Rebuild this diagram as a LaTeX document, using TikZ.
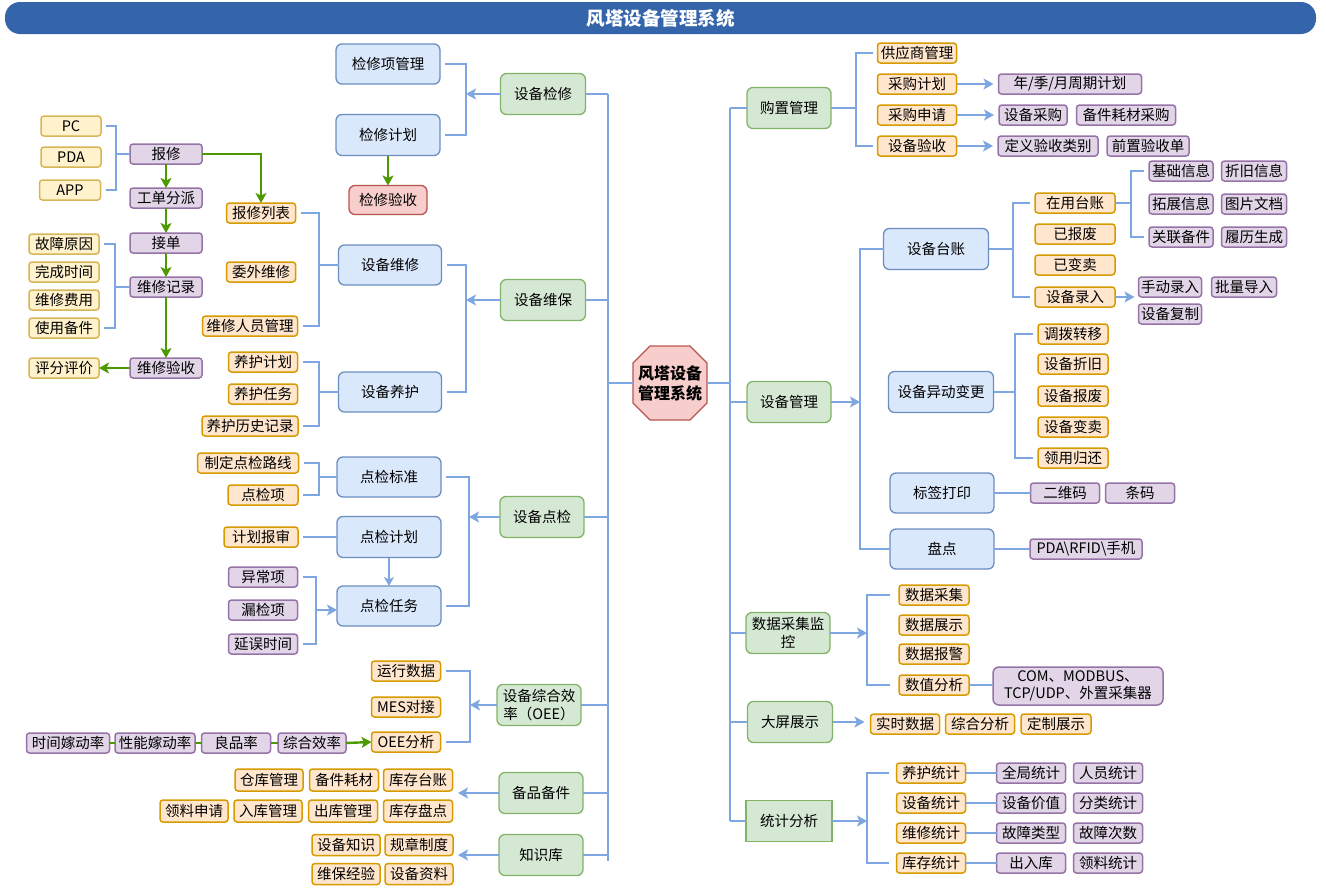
\documentclass[tikz,border=0pt]{standalone}
\usepackage{fontspec}
\setmainfont{Noto Sans CJK SC}
\usetikzlibrary{arrows.meta}
\definecolor{yelF}{HTML}{FFF2CC}\definecolor{yelD}{HTML}{D6B656}
\definecolor{orgF}{HTML}{FFE6CC}\definecolor{orgD}{HTML}{D79B00}
\definecolor{purF}{HTML}{E1D5E7}\definecolor{purD}{HTML}{9673A6}
\definecolor{grnF}{HTML}{D5E8D4}\definecolor{grnD}{HTML}{82B366}
\definecolor{bluF}{HTML}{DAE8FC}\definecolor{bluD}{HTML}{6C8EBF}
\definecolor{redF}{HTML}{F8CECC}\definecolor{redD}{HTML}{B85450}
\definecolor{lineB}{HTML}{7EA6E0}\definecolor{lineG}{HTML}{4D9900}
\definecolor{titleB}{HTML}{3465AA}
\newcommand\fsz{\fontsize{14.5}{17.5}\selectfont}
\begin{document}
\begin{tikzpicture}[x=1pt,y=-1pt,
  sm/.style={draw, rounded corners=3pt, line width=1.5pt, minimum height=20pt, inner sep=0pt, outer sep=0pt, font=\fsz, align=center},
  sy/.style={sm, fill=yelF, draw=yelD},
  so/.style={sm, fill=orgF, draw=orgD},
  sp/.style={sm, fill=purF, draw=purD},
  big/.style={draw, rounded corners=6pt, line width=1.3pt, minimum height=41pt, inner sep=0pt, outer sep=0pt, font=\fsz, align=center},
  bg/.style={big, fill=grnF, draw=grnD},
  bb/.style={big, fill=bluF, draw=bluD},
  w/.style={minimum width=#1pt},
  conn/.style={draw=lineB, line width=2.2pt},
  arr/.style={conn, -{Stealth[length=10pt,width=11pt,inset=2.5pt]}},
  gconn/.style={draw=lineG, line width=2.4pt},
  garr/.style={gconn, -{Stealth[length=10pt,width=11pt,inset=2.5pt]}},
  title/.style={fill=titleB, rounded corners=15pt, minimum width=1311pt, minimum height=32pt, inner sep=0pt, text=white, font=\bfseries\fontsize{18.5}{20}\selectfont}
]
\useasboundingbox (0,0) rectangle (1326,894);
\node[title] (title) at (660.5,18) {风塔设备管理系统};

% centre
\draw[fill=redF, draw=redD, line width=1.3pt] (650,346)--(690,346)--(707,363)--(707,403)--(690,420)--(650,420)--(633,403)--(633,363)--cycle;
\node[minimum width=74pt, minimum height=74pt, inner sep=0pt, outer sep=0pt, align=center, font=\bfseries\fontsize{16}{20}\selectfont] (ctr) at (670,383) {风塔设备\\管理系统};

% ---------------- left side ----------------
\node[bg,w=85] (jx) at (543,94) {设备检修};
\node[bg,w=85] (wb) at (543,300) {设备维保};
\node[bg,w=84] (dj) at (542,517) {设备点检};
\node[bg,w=84] (oee) at (539,705) {设备综合效\\率（OEE）};
\node[bg,w=84] (bp) at (541,793) {备品备件};
\node[bg,w=84] (zs) at (541,855) {知识库};

\node[bb,w=104,minimum height=40pt] (jxx) at (388,64) {检修项管理};
\node[bb,w=104] (jxjh) at (388,135) {检修计划};
\node[big,w=78,minimum height=29pt,fill=redF,draw=redD] (jxys) at (388,200) {检修验收};
\node[bb,w=103,minimum height=40pt] (wx) at (390,265) {设备维修};
\node[bb,w=103,minimum height=40pt] (yh) at (390,392) {设备养护};
\node[bb,w=104,minimum height=40pt] (djbz) at (389,477) {点检标准};
\node[bb,w=104] (djjh) at (389,537) {点检计划};
\node[bb,w=104,minimum height=40pt] (djrw) at (389,606) {点检任务};

\node[sy,w=60] (pc) at (71,126) {PC};
\node[sy,w=60] (pda) at (71,157) {PDA};
\node[sy,w=61] (app) at (70,190) {APP};
\node[sp,w=72] (bx) at (166,154) {报修};
\node[sp,w=72] (gd) at (166,198) {工单分派};
\node[sp,w=72] (jd) at (166,243) {接单};
\node[sp,w=72] (wxjl) at (166,287) {维修记录};
\node[sp,w=72] (wxys) at (166,368) {维修验收};
\node[sy,w=70] (pf) at (64,368) {评分评价};
\node[sy,w=70] (gzyy) at (64,244) {故障原因};
\node[sy,w=70] (wcsj) at (64,272) {完成时间};
\node[sy,w=70] (wxfy) at (64,300) {维修费用};
\node[sy,w=70] (sybj) at (64,328) {使用备件};
\node[so,w=69] (bxlb) at (261,213) {报修列表};
\node[so,w=69] (wwwx) at (261,272) {委外维修};
\node[so,w=95] (wxry) at (250,326) {维修人员管理};
\node[so,w=69] (yhjh) at (263,362) {养护计划};
\node[so,w=69] (yhrw) at (263,394) {养护任务};
\node[so,w=96] (yhls) at (250,426) {养护历史记录};
\node[so,w=101] (zdlx) at (248,463) {制定点检路线};
\node[so,w=70] (djx) at (263,495) {点检项};
\node[so,w=74] (jhbs) at (261,537) {计划报审};
\node[sp,w=69] (ycx) at (263,577) {异常项};
\node[sp,w=69] (ljx) at (263,610) {漏检项};
\node[sp,w=69] (ywsj) at (263,644) {延误时间};
\node[so,w=69] (yxsj) at (406,671) {运行数据};
\node[so,w=69] (mes) at (406,707) {MES对接};
\node[so,w=69] (oeefx) at (406,742) {OEE分析};
\node[sp,w=83] (sjjd) at (68,743) {时间嫁动率};
\node[sp,w=80] (xnjd) at (155,743) {性能嫁动率};
\node[sp,w=69] (lpl) at (236,743) {良品率};
\node[sp,w=68] (zhxl) at (312,743) {综合效率};
\node[so,w=68,minimum height=22pt] (ckgl) at (269,780) {仓库管理};
\node[so,w=69,minimum height=22pt] (bjhc) at (344,780) {备件耗材};
\node[so,w=69,minimum height=22pt] (kctz) at (418,780) {库存台账};
\node[so,w=68,minimum height=22pt] (llsq) at (194,811) {领料申请};
\node[so,w=68,minimum height=22pt] (rkgl) at (268,811) {入库管理};
\node[so,w=69,minimum height=22pt] (chkgl) at (343,811) {出库管理};
\node[so,w=69,minimum height=22pt] (kcpd) at (418,811) {库存盘点};
\node[so,w=68,minimum height=21pt] (sbzs) at (346,845) {设备知识};
\node[so,w=68,minimum height=21pt] (gzzd) at (419,845) {规章制度};
\node[so,w=68,minimum height=21pt] (wbjy) at (346,874) {维保经验};
\node[so,w=68,minimum height=21pt] (sbzl) at (419,874) {设备资料};

% ---------------- right side ----------------
\node[bg,w=84] (gzgl) at (789,108) {购置管理};
\node[bg,w=84] (sbgl) at (789,402) {设备管理};
\node[bg,w=84] (sjcj) at (788,633) {数据采集监\\控};
\node[bg,w=85] (dpzs) at (790,722) {大屏展示};
\node[bg,w=86,rounded corners=0pt] (tjfx) at (789,821) {统计分析};

\node[bb,w=105] (sbtz) at (936,249) {设备台账};
\node[bb,w=105] (ydbg) at (941,392) {设备异动变更};
\node[bb,w=104,minimum height=40pt] (bqdy) at (942,493) {标签打印};
\node[bb,w=104,minimum height=40pt] (pdian) at (942,549) {盘点};

\node[so,w=79] (gys) at (917,53) {供应商管理};
\node[so,w=79] (cgjh) at (917,84) {采购计划};
\node[so,w=79] (cgsq) at (917,115) {采购申请};
\node[so,w=79] (sbys) at (917,146) {设备验收};
\node[sp,w=143] (zqjh) at (1070,84) {年/季/月周期计划};
\node[sp,w=68] (sbcg) at (1033,115) {设备采购};
\node[sp,w=99] (bjcg) at (1126,115) {备件耗材采购};
\node[sp,w=100] (dyys) at (1048,146) {定义验收类别};
\node[sp,w=82] (qzys) at (1148,146) {前置验收单};

\node[so,w=80] (zytz) at (1075,203) {在用台账};
\node[so,w=80] (ybf) at (1075,234) {已报废};
\node[so,w=80] (ybm) at (1075,265) {已变卖};
\node[so,w=80] (sblr) at (1075,297) {设备录入};
\node[sp,w=64] (jcxx) at (1181,171) {基础信息};
\node[sp,w=65] (zjxx) at (1254,171) {折旧信息};
\node[sp,w=64] (tzxx) at (1181,204) {拓展信息};
\node[sp,w=65] (tpwd) at (1254,204) {图片文档};
\node[sp,w=64] (glbj) at (1181,237) {关联备件};
\node[sp,w=65] (llsc) at (1254,237) {履历生成};
\node[sp,w=63] (sdlr) at (1170,287) {手动录入};
\node[sp,w=65] (pldr) at (1244,287) {批量导入};
\node[sp,w=63] (sbfz) at (1170,314) {设备复制};

\node[so,w=70] (dbzy) at (1073,334) {调拨转移};
\node[so,w=70] (sbzj) at (1073,364) {设备折旧};
\node[so,w=70] (sbbf) at (1073,396) {设备报废};
\node[so,w=70] (sbbm) at (1073,427) {设备变卖};
\node[so,w=70] (lygh) at (1073,458) {领用归还};
\node[sp,w=69] (ewm) at (1065,493) {二维码};
\node[sp,w=69] (tmm) at (1140,493) {条码};
\node[sp,w=112] (pdarf) at (1086,549) {PDA\textbackslash RFID\textbackslash 手机};

\node[so,w=70] (sjcji) at (934,595) {数据采集};
\node[so,w=70] (sjzs) at (934,625) {数据展示};
\node[so,w=70] (sjbj) at (934,654) {数据报警};
\node[so,w=70] (szfx) at (934,685) {数值分析};
\node[sp,w=170,minimum height=38pt,rounded corners=6pt] (com) at (1078,686) {COM、MODBUS、\\TCP/UDP、外置采集器};
\node[so,w=69] (sssj) at (905,724) {实时数据};
\node[so,w=69] (zhfx) at (980,724) {综合分析};
\node[so,w=70] (dzzs) at (1056,724) {定制展示};

\node[so,w=69] (yhtj) at (931,773) {养护统计};
\node[so,w=69] (sbtj) at (931,803) {设备统计};
\node[so,w=69] (wxtj) at (931,833) {维修统计};
\node[so,w=69] (kctj) at (931,863) {库存统计};
\node[sp,w=69] (qjtj) at (1031,773) {全局统计};
\node[sp,w=69] (rytj) at (1108,773) {人员统计};
\node[sp,w=69] (sbjz) at (1031,803) {设备价值};
\node[sp,w=69] (fltj) at (1108,803) {分类统计};
\node[sp,w=69] (gzlx) at (1031,833) {故障类型};
\node[sp,w=69] (gzcs) at (1108,833) {故障次数};
\node[sp,w=69] (crk) at (1031,863) {出入库};
\node[sp,w=69] (lltj) at (1108,863) {领料统计};

% ---------------- coordinates ----------------
\coordinate (ltt) at (608,94);
\coordinate (ltb) at (608,861);
\coordinate (rtt) at (730,108);
\coordinate (rtb) at (730,821);
\coordinate (bjx) at (466,94);
\coordinate (bwb) at (466,300);
\coordinate (bwx) at (319,265);
\coordinate (byh) at (319,392);
\coordinate (bbx) at (116,154);
\coordinate (bjl) at (115,287);
\coordinate (bbz) at (319,477);
\coordinate (byc) at (316,610);
\coordinate (bdj) at (469,517);
\coordinate (boee) at (470,705);
\coordinate (abp) at (458,793);
\coordinate (azs) at (458,855);
\coordinate (bgz) at (856,108);
\coordinate (bmt) at (860,402);
\coordinate (btz) at (1013,249);
\coordinate (bzy) at (1131,204);
\coordinate (byd) at (1015,392);
\coordinate (bsj) at (867,637);
\coordinate (btj) at (867,821);

% ---------------- trunks ----------------
\draw[conn] (ltt) -- (ltb);
\foreach \n in {jx,wb,dj,oee,bp,zs} \draw[conn] (\n.east) -- (\n.east -| ltt);
\draw[conn] (rtt) -- (rtb);
\foreach \n in {gzgl,sbgl,sjcj,dpzs,tjfx} \draw[conn] (\n.west) -- (\n.west -| rtt);
\draw[conn] (ctr.west) -- (ctr.west -| ltt);
\draw[conn] (ctr.east) -- (ctr.east -| rtt);

% ---------------- left connectors ----------------
\draw[conn, shorten <=5pt] (jxx.east) -| (bjx);
\draw[conn, shorten <=5pt] (jxjh.east) -| (bjx);
\draw[arr] (jx.west) -- (jx.west -| bjx);
\draw[garr] (jxjh.south) -- (jxys.north);

\draw[conn, shorten <=5pt] (wx.east) -| (bwb);
\draw[conn, shorten <=5pt] (yh.east) -| (bwb);
\draw[arr] (wb.west) -- (wb.west -| bwb);

\draw[conn, shorten <=5pt] (bxlb.east) -| (bwx);
\draw[conn, shorten <=5pt] (wxry.east) -| (bwx);
\draw[conn] (wx.west) -- (wx.west -| bwx);

\draw[conn, shorten <=5pt] (yhjh.east) -| (byh);
\draw[conn, shorten <=5pt] (yhls.east) -| (byh);
\draw[conn] (yh.west) -- (yh.west -| byh);

\draw[conn, shorten <=5pt] (pc.east) -| (bbx);
\draw[conn, shorten <=5pt] (app.east) -| (bbx);
\draw[conn] (bx.west) -- (bx.west -| bbx);

\draw[garr] (bx.south) -- (gd.north);
\draw[garr] (gd.south) -- (jd.north);
\draw[garr] (jd.south) -- (wxjl.north);
\draw[garr] (wxjl.south) -- (wxys.north);
\draw[garr] (wxys.west) -- (pf.east);
\draw[garr] (bx.east) -| (bxlb.north);

\draw[conn, shorten <=5pt] (gzyy.east) -| (bjl);
\draw[conn, shorten <=5pt] (sybj.east) -| (bjl);
\draw[conn] (wxjl.west) -- (wxjl.west -| bjl);

\draw[conn, shorten <=5pt] (zdlx.east) -| (bbz);
\draw[conn, shorten <=5pt] (djx.east) -| (bbz);
\draw[conn] (djbz.west) -- (djbz.west -| bbz);
\draw[conn, shorten <=5pt] (jhbs.east) -- (djjh.west);
\draw[conn, -{Stealth[length=9pt,width=10pt,inset=2.5pt]}] (djjh.south) -- (djrw.north);

\draw[conn, shorten <=5pt] (ycx.east) -| (byc);
\draw[conn, shorten <=5pt] (ywsj.east) -| (byc);
\draw[arr] (byc) -- (byc -| djrw.west);

\draw[conn, shorten <=5pt] (djbz.east) -| (bdj);
\draw[conn, shorten <=5pt] (djrw.east) -| (bdj);
\draw[arr] (dj.west) -- (dj.west -| bdj);

\draw[conn, shorten <=5pt] (yxsj.east) -| (boee);
\draw[conn, shorten <=5pt] (oeefx.east) -| (boee);
\draw[arr] (oee.west) -- (oee.west -| boee);

\draw[gconn] (sjjd.east) -- (xnjd.west);
\draw[gconn] (xnjd.east) -- (lpl.west);
\draw[gconn] (lpl.east) -- (zhxl.west);
\draw[garr] (zhxl.east) -- (oeefx.west);

\draw[arr] (bp.west) -- (abp);
\draw[arr] (zs.west) -- (azs);

% ---------------- right connectors ----------------
\draw[conn, shorten <=5pt] (gys.west) -| (bgz);
\draw[conn, shorten <=5pt] (sbys.west) -| (bgz);
\draw[conn] (gzgl.east) -- (gzgl.east -| bgz);
\draw[arr, shorten >=5pt] (cgjh.east) -- (zqjh.west);
\draw[arr, shorten >=5pt] (cgsq.east) -- (sbcg.west);
\draw[arr, shorten >=5pt] (sbys.east) -- (dyys.west);

\draw[conn] (sbtz.west) -| (bmt);
\draw[conn] (pdian.west) -| (bmt);
\draw[arr] (sbgl.east) -- (bmt);

\draw[conn, shorten <=5pt] (zytz.west) -| (btz);
\draw[conn, shorten <=5pt] (sblr.west) -| (btz);
\draw[conn] (sbtz.east) -- (sbtz.east -| btz);

\draw[conn, shorten <=5pt] (jcxx.west) -| (bzy);
\draw[conn, shorten <=5pt] (glbj.west) -| (bzy);
\draw[conn] (zytz.east) -- (zytz.east -| bzy);
\draw[arr, shorten >=4pt] (sblr.east) -- (sblr.east -| sdlr.west);

\draw[conn, shorten <=5pt] (dbzy.west) -| (byd);
\draw[conn, shorten <=5pt] (lygh.west) -| (byd);
\draw[conn] (ydbg.east) -- (ydbg.east -| byd);

\draw[conn] (bqdy.east) -- (ewm.west);
\draw[conn] (pdian.east) -- (pdarf.west);

\draw[conn, shorten <=9pt] (sjcji.west) -| (bsj);
\draw[conn, shorten <=9pt] (szfx.west) -| (bsj);
\draw[arr] (sjcj.east) -- (sjcj.east -| bsj);
\draw[conn] (szfx.east) -- (szfx.east -| com.west);

\draw[arr, shorten >=6pt] (dpzs.east) -- (dpzs.east -| sssj.west);

\draw[conn, shorten <=8pt] (yhtj.west) -| (btj);
\draw[conn, shorten <=8pt] (kctj.west) -| (btj);
\draw[arr] (tjfx.east) -- (tjfx.east -| btj);
\draw[conn] (yhtj.east) -- (qjtj.west);
\draw[conn] (sbtj.east) -- (sbjz.west);
\draw[conn] (wxtj.east) -- (gzlx.west);
\draw[conn] (kctj.east) -- (crk.west);
\end{tikzpicture}
\end{document}
